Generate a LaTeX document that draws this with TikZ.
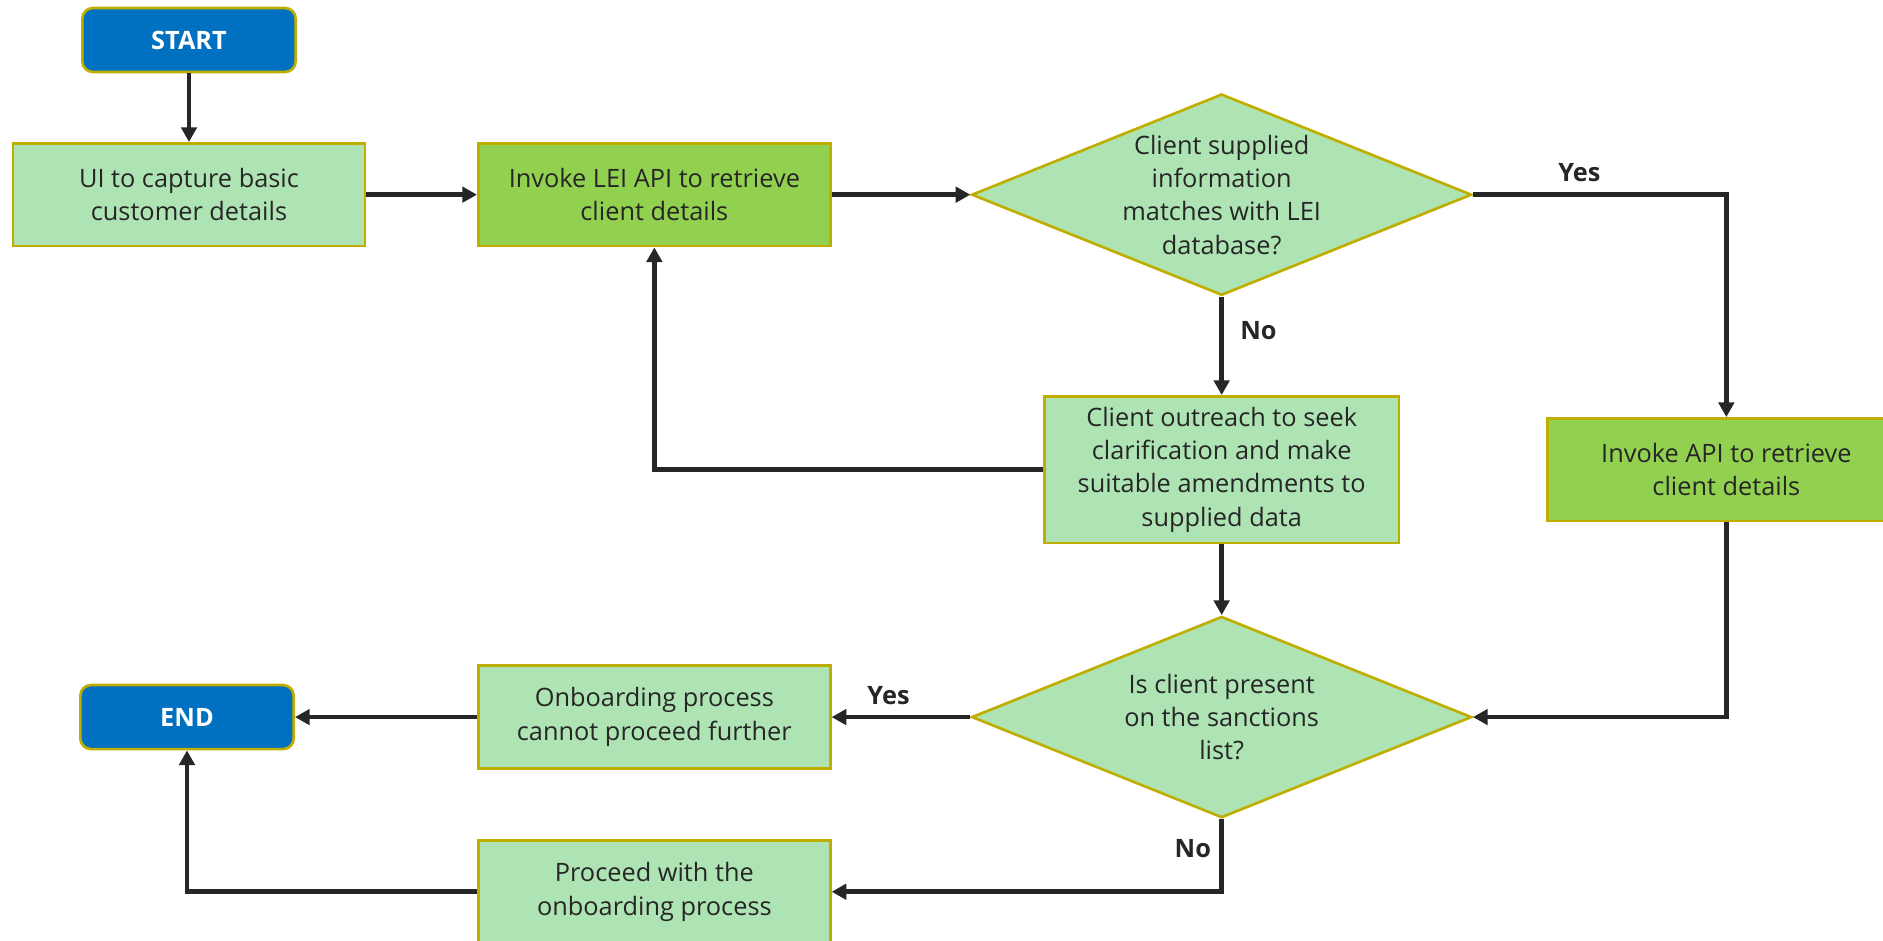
\documentclass[tikz,border=0pt]{standalone}
\usepackage{fontspec}
\setmainfont{Open Sans}
\usetikzlibrary{positioning,shapes.geometric,arrows.meta}
\definecolor{termblue}{HTML}{0070C0}
\definecolor{edge}{HTML}{BFAE00}
\definecolor{paleg}{HTML}{AEE4B4}
\definecolor{leafg}{HTML}{92D050}
\definecolor{ink}{HTML}{262626}
\begin{document}
\begin{tikzpicture}[x=0.75pt, y=-0.75pt, font=\fontsize{19}{25}\selectfont, text=ink,
  box/.style = {draw=edge, line width=2pt, fill=paleg, align=center, inner sep=0pt, minimum width=264pt, minimum height=77pt},
  boxg/.style = {box, fill=leafg},
  term/.style = {draw=edge, line width=2pt, fill=termblue, text=white, font=\fontsize{19}{25}\selectfont\bfseries, rounded corners=8pt, minimum width=160pt, minimum height=48pt},
  dec/.style = {diamond, draw=edge, line width=2pt, fill=paleg, align=center, inner sep=0pt, aspect=2.5, minimum width=375pt, minimum height=151pt},
  arr/.style = {draw=ink, line width=3.4pt, -{Triangle[length=11pt, width=11.5pt]}},
  lbl/.style = {font=\fontsize{19}{25}\selectfont\bfseries, text=ink}]
\useasboundingbox (0,0) rectangle (1883,940);

\node[term] (start) at (189,40) {START};
\node[box, below=51.5pt of start] (ui) {UI to capture basic\\customer details};
\node[boxg, right=83pt of ui] (lei) {Invoke LEI API to retrieve\\client details};
\node[dec, right=104pt of lei] (chk) {Client supplied\\information\\matches with LEI\\database?};
\node[box, below=73.8pt of chk, minimum width=266pt, minimum height=110pt] (ask) {Client outreach to seek\\clarification and make\\suitable amendments to\\supplied data};
\node[boxg, right=109.5pt of ask, minimum width=268pt] (api) {Invoke API to retrieve\\client details};
\node[dec, below=53pt of ask] (sanc) {Is client present\\on the sanctions\\list?};
\node[box, left=104pt of sanc] (stop) {Onboarding process\\cannot proceed further};
\node[term, left=136.5pt of stop] (finish) {END};
\node[box, below=52pt of stop] (go) {Proceed with the\\onboarding process};

\draw[arr] (start) -- (ui);
\draw[arr] (ui) -- (lei);
\draw[arr] (lei) -- (chk);
\draw[arr] (chk.east) -| node[lbl, pos=0.21, above=5pt] {Yes} (api.north);
\draw[arr] (chk.south) -- node[lbl, pos=0.34, right=9pt] {No} (ask.north);
\draw[arr] (ask.west) -| (lei.south);
\draw[arr] (ask) -- (sanc);
\draw[arr] (api.south) |- (sanc.east);
\draw[arr] (sanc.west) -- node[lbl, pos=0.59, above=4pt] {Yes} (stop.east);
\draw[arr] (stop) -- (finish);
\draw[arr] (sanc.south) |- node[lbl, pos=0.2, left=3pt] {No} (go.east);
\draw[arr] (go.west) -| (finish.south);

\end{tikzpicture}
\end{document}
